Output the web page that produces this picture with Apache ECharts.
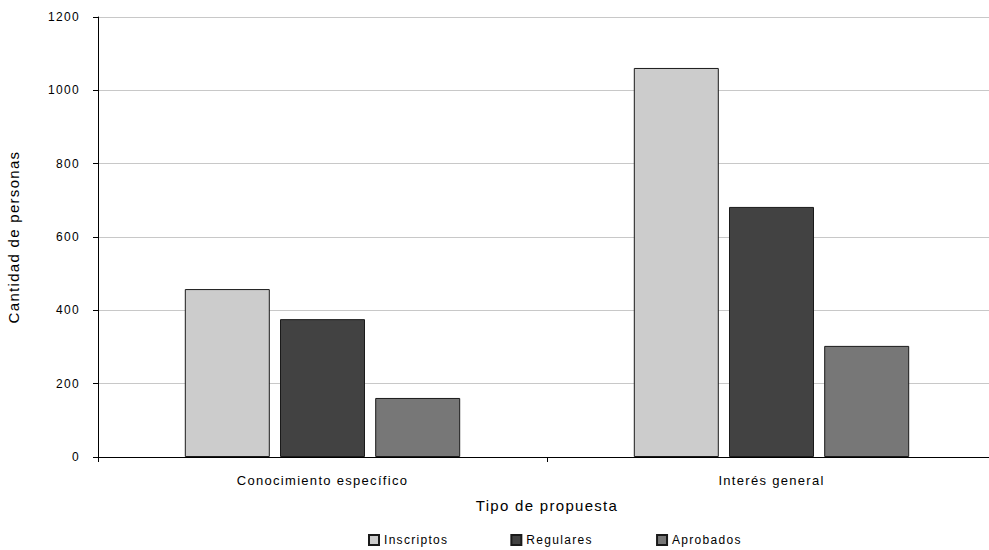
<!DOCTYPE html>
<html>
<head>
<meta charset="utf-8">
<script src="https://cdn.jsdelivr.net/npm/echarts@6/dist/echarts.min.js"></script>
<style>html,body{margin:0;padding:0;background:#fff}#c{width:989px;height:550px}#c text{letter-spacing:1.3px;font-weight:400 !important;stroke:none !important;paint-order:normal}</style>
</head>
<body>
<div id="c"></div>
<script>
const categories = ['Conocimiento específico', 'Interés general'];
const seriesNames = ['Inscriptos', 'Regulares', 'Aprobados'];
const inscriptos = [458, 1061];
const regulares = [376, 682];
const aprobados = [161, 303];
const yTicks = [0, 200, 400, 600, 800, 1000, 1200];
const colors = ['#cccccc', '#424242', '#777777'];
const font = 'Liberation Sans, Arial, sans-serif';

const chart = echarts.init(document.getElementById('c'), null, { renderer: 'svg' });
const dataSets = [inscriptos, regulares, aprobados];
chart.setOption({
  animation: false,
  backgroundColor: '#fff',
  grid: { left: 98, top: 17, bottom: 93, right: -7, containLabel: false, outerBoundsMode: 'none' },
  legend: {
    bottom: -1, left: 363, itemGap: 75,
    icon: 'rect', itemWidth: 10, itemHeight: 10,
    textStyle: { fontFamily: font, fontSize: 12, color: '#000' },
    data: seriesNames
  },
  xAxis: {
    type: 'category', data: categories,
    name: 'Tipo de propuesta', nameLocation: 'middle', nameGap: 41,
    nameTextStyle: { fontFamily: font, fontSize: 15, fontWeight: 400, color: '#000', textBorderWidth: 0 },
    axisLine: { lineStyle: { color: '#000', width: 1 } },
    axisTick: { show: true, length: 5, lineStyle: { color: '#000' } },
    axisLabel: { fontFamily: font, fontSize: 13, color: '#000', margin: 17 }
  },
  yAxis: {
    type: 'value', min: yTicks[0], max: yTicks[yTicks.length - 1], interval: yTicks[1] - yTicks[0],
    name: 'Cantidad de personas', nameLocation: 'middle', nameGap: 77,
    nameTextStyle: { fontFamily: font, fontSize: 15, fontWeight: 400, color: '#000', textBorderWidth: 0 },
    axisLine: { show: true, lineStyle: { color: '#000', width: 1 } },
    axisTick: { show: true, length: 5, lineStyle: { color: '#000' } },
    axisLabel: { fontFamily: font, fontSize: 12, color: '#000', margin: 18, formatter: v => String(v) },
    splitLine: { show: true, lineStyle: { color: '#c8c8c8', width: 1 } }
  },
  series: seriesNames.map((n, i) => ({
    name: n, type: 'bar', data: dataSets[i],
    barWidth: 85, barGap: '12%',
    itemStyle: { color: colors[i], borderColor: '#1a1a1a', borderWidth: 1 }
  }))
});
</script>
</body>
</html>
